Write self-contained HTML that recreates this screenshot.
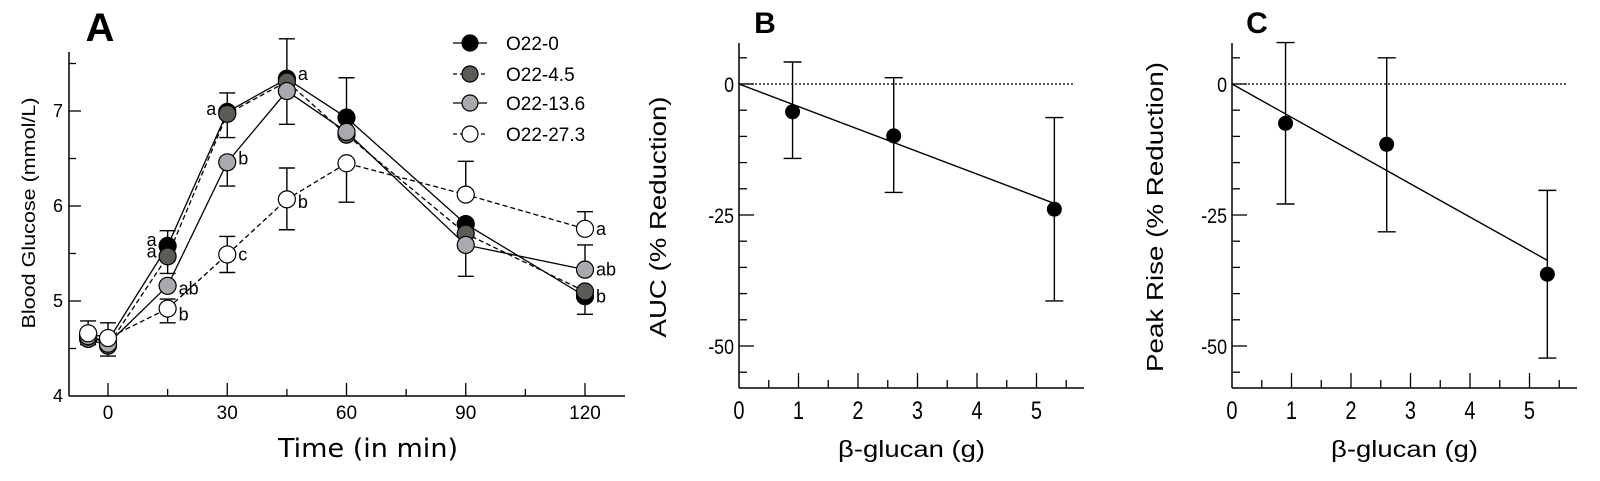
<!DOCTYPE html>
<html><head><meta charset="utf-8"><style>
html,body{margin:0;padding:0;background:#fff;}
svg{display:block;font-family:"Liberation Sans",Arial,sans-serif;}
</style></head><body>
<svg id="fig" width="1600" height="481" viewBox="0 0 1600 481" xmlns="http://www.w3.org/2000/svg">
<rect width="1600" height="481" fill="#fff"/>
<g id="pa"></g>
<g id="pb"></g>
<g id="pc"></g>
</svg>
<script>
// ---- Panel A data ----
const times = [-5, 0, 15, 30, 45, 60, 90, 120];
const seriesNames = ["O22-0", "O22-4.5", "O22-13.6", "O22-27.3"];
const g0 = [4.62, 4.58, 5.58, 6.99, 7.34, 6.93, 5.81, 5.05];
const g45 = [4.60, 4.53, 5.47, 6.97, 7.31, 6.75, 5.71, 5.10];
const g136 = [4.63, 4.55, 5.16, 6.46, 7.21, 6.78, 5.59, 5.33];
const g273 = [4.66, 4.61, 4.92, 5.49, 6.07, 6.45, 6.12, 5.76];
const errT = [-5, 0, 15, 15, 30, 30, 30, 45, 45, 60, 60, 90, 90, 120, 120, 120];
const errLo = [4.54, 4.42, 5.29, 4.77, 6.72, 6.21, 5.30, 6.86, 5.75, 6.92, 6.04, 6.12, 5.26, 5.76, 5.33, 4.86];
const errHi = [4.79, 4.77, 5.74, 5.02, 7.19, 6.46, 5.68, 7.76, 6.40, 7.35, 6.45, 6.47, 5.59, 5.94, 5.59, 5.05];
const letT = [15, 15, 15, 15, 30, 30, 30, 45, 45, 120, 120, 120];
const letV = [5.64, 5.52, 5.13, 4.86, 7.02, 6.50, 5.49, 7.39, 6.04, 5.76, 5.33, 5.05];
const letS = ["a", "a", "ab", "b", "a", "b", "c", "a", "b", "a", "ab", "b"];
const letSide = [-1, -1, 1, 1, -1, 1, 1, 1, 1, 1, 1, 1];
const yTicksA = [4, 5, 6, 7];
const xTicksA = [0, 30, 60, 90, 120];
// ---- Panel B / C data ----
const doses = [0.9, 2.6, 5.3];
const aucVals = [-5.3, -9.9, -23.9];
const aucHi = [4.2, 1.2, -6.4];
const aucLo = [-14.2, -20.7, -41.4];
const aucSlope = -4.3;
const peakVals = [-7.5, -11.5, -36.3];
const peakHi = [7.9, 5.0, -20.3];
const peakLo = [-22.9, -28.2, -52.3];
const peakSlope = -6.35;
const yTicksBC = [0, -25, -50];
const xTicksBC = [0, 1, 2, 3, 4, 5];

const NS = "http://www.w3.org/2000/svg";
function mk(parent, tag, attrs, text) {
  const e = document.createElementNS(NS, tag);
  for (const k in attrs) e.setAttribute(k, attrs[k]);
  if (text !== undefined) e.textContent = text;
  parent.appendChild(e);
  return e;
}

// ===== Panel A =====
const pa = document.getElementById('pa');
const ax = t => 108 + t * 3.975;
const ay = v => 396 - (v - 4) * 95;
let e;
e = mk(pa, 'text', {x: 100, y: 41, 'font-size': 40, 'font-weight': 'bold', 'text-anchor': 'middle'}, 'A');


e = mk(pa, 'line', {x1: 69, y1: 52, x2: 69, y2: 396, stroke: '#000', 'stroke-width': 1.5});


e = mk(pa, 'line', {x1: 69, y1: 396, x2: 625, y2: 396, stroke: '#000', 'stroke-width': 1.5});


for (let v = 4.5; v < 7.7; v += 0.5) {
  const major = Math.abs(v - Math.round(v)) < 0.01;
  e = mk(pa, 'line', {x1: 69, y1: ay(v), x2: 69 + (major ? 12 : 7), y2: ay(v), stroke: '#000', 'stroke-width': 1.3});
  
  
}
yTicksA.forEach(v => {
  e = mk(pa, 'text', {x: 63, y: ay(v) + 6, 'font-size': 18, 'text-anchor': 'end'}, String(v));
  
  
});
for (let t = 0; t <= 120; t += 15) {
  const major = t % 30 === 0;
  e = mk(pa, 'line', {x1: ax(t), y1: 396, x2: ax(t), y2: 396 - (major ? 13 : 7), stroke: '#000', 'stroke-width': 1.3});
  
  
}
xTicksA.forEach(t => {
  e = mk(pa, 'text', {x: ax(t), y: 419, 'font-size': 19, 'text-anchor': 'middle'}, String(t));
  
  
});
e = mk(pa, 'text', {x: 0, y: 0, transform: 'translate(35,213) rotate(-90)', 'font-size': 18, 'text-anchor': 'middle', textLength: 231, lengthAdjust: 'spacingAndGlyphs'}, 'Blood Glucose (mmol/L)');


e = mk(pa, 'text', {x: 368, y: 457, 'font-size': 26, 'text-anchor': 'middle', 'font-family': '"DejaVu Sans",sans-serif', textLength: 180, lengthAdjust: 'spacingAndGlyphs'}, 'Time (in min)');



for (let i = 0; i < errT.length; i++) {
  const x = ax(errT[i]);
  e = mk(pa, 'path', {d: `M${x},${ay(errLo[i])}V${ay(errHi[i])}M${x-8},${ay(errLo[i])}H${x+8}M${x-8},${ay(errHi[i])}H${x+8}`, stroke: '#000', 'stroke-width': 1.4, fill: 'none'});
  
  
}
const allSeries = [g0, g45, g136, g273];
const fills = ['#000', '#5a5c57', '#a9a9ae', '#fff'];
const dashes = ['', '5,3', '', '5,3'];
allSeries.forEach((s, si) => {
  const d = s.map((v, i) => (i ? 'L' : 'M') + ax(times[i]) + ',' + ay(v)).join('');
  e = mk(pa, 'path', {d: d, stroke: '#000', 'stroke-width': 1.3, fill: 'none', 'stroke-dasharray': dashes[si]});
  
  
});
allSeries.forEach((s, si) => {
  s.forEach((v, i) => {
    e = mk(pa, 'circle', {cx: ax(times[i]), cy: ay(v), r: 8.5, fill: fills[si], stroke: '#000', 'stroke-width': 1.2});
    
    
  });
});
for (let i = 0; i < letS.length; i++) {
  const x = ax(letT[i]) + letSide[i] * 11;
  e = mk(pa, 'text', {x: x, y: ay(letV[i]) + 6, 'font-size': 18, 'text-anchor': letSide[i] < 0 ? 'end' : 'start'}, letS[i]);
  
  
}
const legY = [43, 74, 103, 134];
seriesNames.forEach((n, i) => {
  const g = mk(pa, 'g', {});
  
  
  mk(g, 'line', {x1: 453, y1: legY[i], x2: 487, y2: legY[i], stroke: '#000', 'stroke-width': 1.3, 'stroke-dasharray': dashes[i] ? '4,3' : ''});
  mk(g, 'circle', {cx: 470, cy: legY[i], r: 8, fill: fills[i], stroke: '#000', 'stroke-width': 1.2});
  mk(g, 'text', {x: 506, y: legY[i] + 7, 'font-size': 19}, n);
});

// ===== Panels B & C =====
function panel(id, x0, letter, letterX, title, titleX, titleLen, vals, hi, lo, slope, xEnd) {
  const p = document.getElementById(id);
  const px = d => x0 + d * 59.5;
  const py = v => 84 - v * 5.24;
  let e;
  e = mk(p, 'text', {x: letterX, y: 33, 'font-size': 30, 'font-weight': 'bold', 'text-anchor': 'middle'}, letter);
  
  
  e = mk(p, 'line', {x1: x0, y1: 43, x2: x0, y2: 388, stroke: '#000', 'stroke-width': 1.5});
  
  
  e = mk(p, 'line', {x1: x0, y1: 388, x2: xEnd, y2: 388, stroke: '#000', 'stroke-width': 1.5});
  
  
  for (let v = 5; v >= -55; v -= 5) {
    const major = v % 25 === 0;
    e = mk(p, 'line', {x1: x0, y1: py(v), x2: x0 + (major ? 15 : 8), y2: py(v), stroke: '#000', 'stroke-width': 1.3});
    
    
  }
  yTicksBC.forEach(v => {
    e = mk(p, 'text', {x: 0, y: py(v) + 8, 'font-size': 21, 'text-anchor': 'end', transform: `translate(${x0-5},0) scale(0.85,1)`}, String(v));
    
    
  });
  for (let d = 0.5; d <= 5.5; d += 0.5) {
    const major = Math.abs(d - Math.round(d)) < 0.01;
    e = mk(p, 'line', {x1: px(d), y1: 388, x2: px(d), y2: 388 - (major ? 15 : 8), stroke: '#000', 'stroke-width': 1.3});
    
    
  }
  xTicksBC.forEach(d => {
    e = mk(p, 'text', {x: 0, y: 419, 'font-size': 25, 'text-anchor': 'middle', transform: `translate(${px(d)},0) scale(0.8,1)`}, String(d));
    
    
  });
  e = mk(p, 'text', {x: 0, y: 0, transform: `translate(${titleX},217) rotate(-90)`, 'font-size': 23, 'text-anchor': 'middle', textLength: titleLen, lengthAdjust: 'spacingAndGlyphs'}, title);
  
  
  e = mk(p, 'text', {x: px(2.9), y: 457, 'font-size': 23, 'text-anchor': 'middle', textLength: 147, lengthAdjust: 'spacingAndGlyphs'}, 'β-glucan (g)');
  
  
  e = mk(p, 'line', {x1: x0, y1: py(0), x2: xEnd - 10, y2: py(0), stroke: '#000', 'stroke-width': 1.3, 'stroke-dasharray': '2,2'});
  
  
  const dMax = doses[doses.length - 1];
  e = mk(p, 'line', {x1: px(0), y1: py(0), x2: px(dMax), y2: py(slope * dMax), stroke: '#000', 'stroke-width': 1.4});
  
  
  doses.forEach((d, i) => {
    const x = px(d);
    e = mk(p, 'path', {d: `M${x},${py(lo[i])}V${py(hi[i])}M${x-9},${py(lo[i])}H${x+9}M${x-9},${py(hi[i])}H${x+9}`, stroke: '#000', 'stroke-width': 1.4, fill: 'none'});
    
    
    e = mk(p, 'circle', {cx: x, cy: py(vals[i]), r: 7.5, fill: '#000'});
    
    
  });
}
panel('pb', 739, 'B', 765, 'AUC (% Reduction)', 666, 241, aucVals, aucHi, aucLo, aucSlope, 1084);
panel('pc', 1232, 'C', 1257, 'Peak Rise (% Reduction)', 1163, 310, peakVals, peakHi, peakLo, peakSlope, 1577);
</script>
</body></html>
